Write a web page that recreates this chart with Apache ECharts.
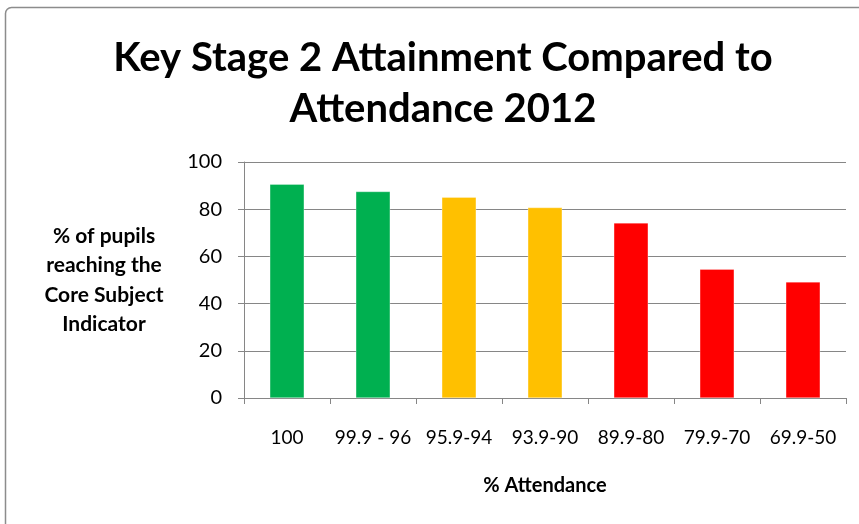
<!DOCTYPE html>
<html>
<head>
<meta charset="utf-8">
<script src="https://cdn.jsdelivr.net/npm/echarts@6/dist/echarts.min.js"></script>
<style>
html,body{margin:0;padding:0;background:#fff;}
#chart{width:859px;height:524px;}
</style>
</head>
<body>
<div id="chart"></div>
<script>
const categories = ['100', '99.9 - 96', '95.9-94', '93.9-90', '89.9-80', '79.9-70', '69.9-50'];
const values = [90.6, 87.5, 85.1, 80.7, 74.2, 54.6, 49.2];
const yTicks = { min: 0, max: 100, interval: 20 };
const titleText = 'Key Stage 2 Attainment Compared to\nAttendance 2012';
const yName = '% of pupils\nreaching the\nCore Subject\nIndicator';
const xName = '% Attendance';

const barColors = ['#00B050', '#00B050', '#FFC000', '#FFC000', '#FF0000', '#FF0000', '#FF0000'];
const sansFont = 'Lato, "Open Sans", sans-serif';

const chart = echarts.init(document.getElementById('chart'), null, { renderer: 'canvas' });
chart.setOption({
  backgroundColor: '#ffffff',
  animation: false,
  graphic: [{
    type: 'rect',
    shape: { x: 5.5, y: 7.5, width: 870, height: 540, r: 6 },
    style: { fill: 'none', stroke: '#8c8c8c', lineWidth: 1.5 },
    silent: true
  }],
  title: {
    text: titleText,
    left: 438,
    textAlign: 'center',
    top: 28,
    textStyle: { fontFamily: sansFont, fontWeight: 'bold', fontSize: 40, lineHeight: 51, color: '#000' }
  },
  grid: { left: 244, right: 13, top: 162, bottom: 126, containLabel: false },
  xAxis: {
    type: 'category',
    data: categories,
    name: xName,
    nameLocation: 'middle',
    nameGap: 78,
    nameTextStyle: { fontFamily: sansFont, fontWeight: 'bold', fontSize: 20, color: '#000' },
    axisLine: { show: true, lineStyle: { color: '#868686', width: 1 } },
    axisTick: { show: true, alignWithLabel: false, length: 6, lineStyle: { color: '#868686' } },
    axisLabel: { interval: 0, margin: 30, fontFamily: sansFont, fontSize: 19, color: '#000' },
    splitLine: { show: false }
  },
  yAxis: {
    type: 'value',
    min: yTicks.min, max: yTicks.max, interval: yTicks.interval,
    name: yName,
    nameLocation: 'middle',
    nameRotate: 0,
    nameGap: 140,
    nameTextStyle: { fontFamily: sansFont, fontWeight: 'bold', fontSize: 21, lineHeight: 29.5, align: 'center', verticalAlign: 'middle', color: '#000' },
    axisLine: { show: true, lineStyle: { color: '#868686', width: 1 } },
    axisTick: { show: true, inside: false, length: 6, lineStyle: { color: '#868686' } },
    axisLabel: { margin: 22, fontFamily: sansFont, fontSize: 20, color: '#000' },
    splitLine: { show: true, lineStyle: { color: '#868686', width: 1 } }
  },
  series: [{
    type: 'bar',
    data: values.map((v, i) => ({ value: v, itemStyle: { color: barColors[i] } })),
    barCategoryGap: '60%',
    itemStyle: { borderColor: 'rgba(255,255,255,0.6)', borderWidth: 0.5 }
  }]
});
</script>
</body>
</html>
